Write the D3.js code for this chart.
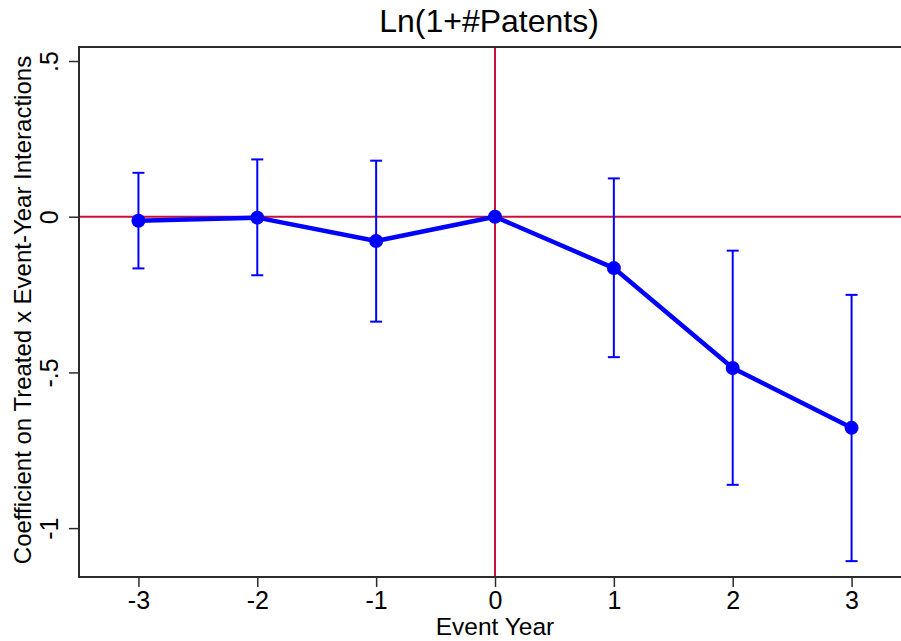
<!DOCTYPE html>
<html>
<head>
<meta charset="utf-8">
<script src="https://cdn.jsdelivr.net/npm/d3@7"></script>
<style>
  body { margin: 0; background: #fff; }
  text { font-family: "Liberation Sans", Arial, sans-serif; fill: #000; }
</style>
</head>
<body>
<svg width="901" height="641"></svg>
<script>
// Event-study coefficients
let eventYears = [-3, -2, -1, 0, 1, 2, 3];
let coefs = [-0.013, -0.003, -0.078, 0, -0.165, -0.486, -0.678];
let ciLow = [-0.166, -0.188, -0.337, 0, -0.451, -0.861, -1.106];
let ciHigh = [0.141, 0.184, 0.180, 0, 0.123, -0.109, -0.251];
let yTicks = [0.5, 0, -0.5, -1];
let yTickLabels = [".5", "0", "-.5", "-1"];
let xTicks = [-3, -2, -1, 0, 1, 2, 3];
let xTickLabels = ["-3", "-2", "-1", "0", "1", "2", "3"];

let svg = d3.select("svg"),
    width = +svg.attr("width"),
    height = +svg.attr("height");

let plotLeft = 79, plotTop = 47, plotBottom = 577;

let x = d3.scaleLinear()
    .domain([-3.5, 3.5])
    .range([plotLeft, 911]);

let y = d3.scaleLinear()
    .domain([-1.157, 0.545])
    .range([plotBottom, plotTop]);

let data = eventYears.map((d, i) => ({ year: d, b: coefs[i], lo: ciLow[i], hi: ciHigh[i] }));

let red = "#c8103c", blue = "#0000ff", axisCol = "#2b2b2b";

// reference lines
svg.append("line")
    .attr("x1", plotLeft).attr("x2", width)
    .attr("y1", y(0)).attr("y2", y(0))
    .attr("stroke", red).attr("stroke-width", 2);
svg.append("line")
    .attr("x1", x(0)).attr("x2", x(0))
    .attr("y1", plotTop).attr("y2", plotBottom)
    .attr("stroke", red).attr("stroke-width", 2);

// confidence intervals
let ci = svg.append("g")
    .attr("stroke", blue)
    .attr("stroke-width", 2)
    .selectAll("g")
    .data(data.filter(d => d.hi !== d.lo))
    .enter()
    .append("g");
ci.append("line")
    .attr("x1", d => x(d.year)).attr("x2", d => x(d.year))
    .attr("y1", d => y(d.lo)).attr("y2", d => y(d.hi));
ci.append("line")
    .attr("x1", d => x(d.year) - 6).attr("x2", d => x(d.year) + 6)
    .attr("y1", d => y(d.lo)).attr("y2", d => y(d.lo));
ci.append("line")
    .attr("x1", d => x(d.year) - 6).attr("x2", d => x(d.year) + 6)
    .attr("y1", d => y(d.hi)).attr("y2", d => y(d.hi));

// coefficient line + markers
svg.append("path")
    .datum(data)
    .attr("fill", "none")
    .attr("stroke", blue)
    .attr("stroke-width", 4.5)
    .attr("stroke-linejoin", "round")
    .attr("d", d3.line().x(d => x(d.year)).y(d => y(d.b)));

svg.append("g")
    .selectAll("circle")
    .data(data)
    .enter()
    .append("circle")
    .attr("cx", d => x(d.year))
    .attr("cy", d => y(d.b))
    .attr("r", 7)
    .attr("fill", blue);

// axes frame
svg.append("line")
    .attr("x1", plotLeft).attr("x2", width)
    .attr("y1", plotTop).attr("y2", plotTop)
    .attr("stroke", axisCol).attr("stroke-width", 2);

let yAxis = svg.append("g")
    .attr("transform", `translate(${plotLeft},0)`)
    .call(d3.axisLeft(y)
        .tickValues(yTicks)
        .tickFormat((d, i) => yTickLabels[i])
        .tickSize(10)
        .tickSizeOuter(0));
yAxis.select(".domain").attr("stroke", axisCol).attr("stroke-width", 2)
    .attr("d", `M0,${plotTop - 1}V${plotBottom + 1}`);
yAxis.selectAll(".tick line").attr("stroke", axisCol).attr("stroke-width", 1.5);
yAxis.selectAll(".tick text")
    .attr("x", null).attr("dy", null)
    .attr("transform", "translate(-21,0) rotate(-90)")
    .attr("text-anchor", "middle")
    .style("font-size", "25px")
    .style("font-family", '"Liberation Sans", Arial, sans-serif')
    .attr("fill", "#000");

let xAxis = svg.append("g")
    .attr("transform", `translate(0,${plotBottom})`)
    .call(d3.axisBottom(x)
        .tickValues(xTicks)
        .tickFormat((d, i) => xTickLabels[i])
        .tickSize(10)
        .tickSizeOuter(0));
xAxis.select(".domain").attr("stroke", axisCol).attr("stroke-width", 2)
    .attr("d", `M${plotLeft - 1},0H${width}`);
xAxis.selectAll(".tick line").attr("stroke", axisCol).attr("stroke-width", 1.5);
xAxis.selectAll(".tick text")
    .attr("y", 32).attr("dy", null)
    .style("font-size", "25px")
    .style("font-family", '"Liberation Sans", Arial, sans-serif')
    .attr("fill", "#000");

// titles
svg.append("text")
    .attr("x", 489).attr("y", 32)
    .attr("text-anchor", "middle")
    .style("font-size", "32px")
    .text("Ln(1+#Patents)");

svg.append("text")
    .attr("x", x(0)).attr("y", 635)
    .attr("text-anchor", "middle")
    .style("font-size", "24.5px")
    .text("Event Year");

svg.append("text")
    .attr("transform", `translate(31,${(plotTop + plotBottom) / 2 - 2}) rotate(-90)`)
    .attr("text-anchor", "middle")
    .style("font-size", "24px")
    .text("Coefficient on Treated x Event-Year Interactions");
</script>
</body>
</html>
